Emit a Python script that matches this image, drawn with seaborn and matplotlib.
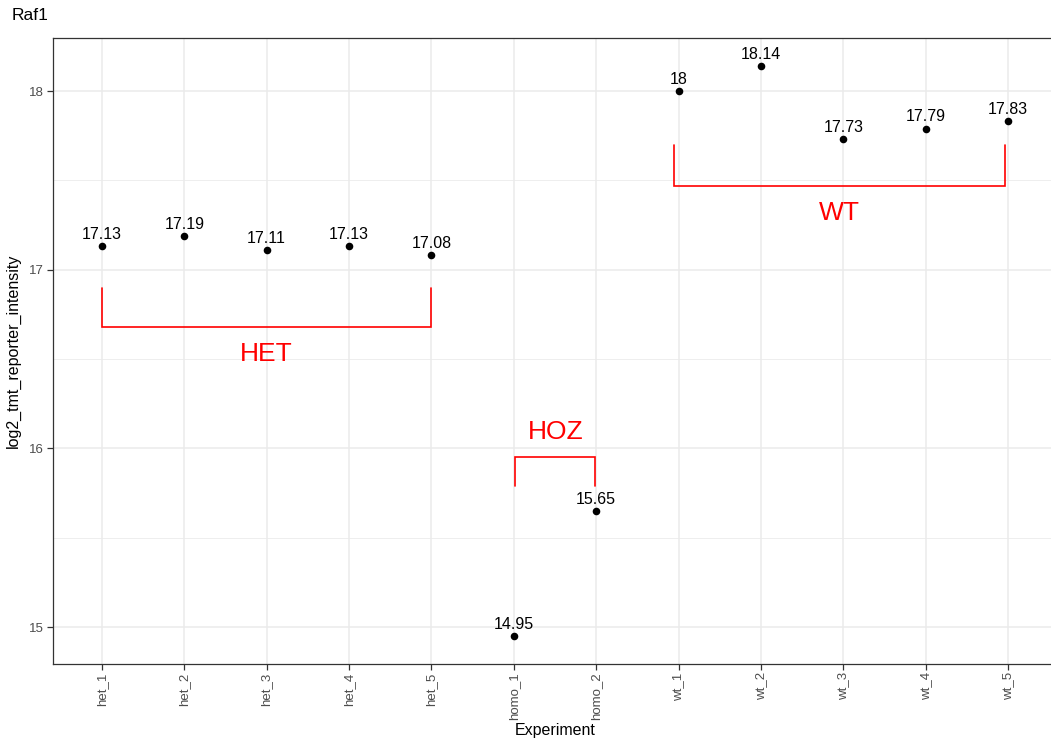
import matplotlib
matplotlib.use("Agg")
import matplotlib.pyplot as plt
import seaborn as sns
import pandas as pd
from matplotlib.ticker import MultipleLocator

experiments = ["het_1", "het_2", "het_3", "het_4", "het_5", "homo_1", "homo_2",
               "wt_1", "wt_2", "wt_3", "wt_4", "wt_5"]
intensity = [17.13, 17.19, 17.11, 17.13, 17.08, 14.95, 15.65,
             18.00, 18.14, 17.73, 17.79, 17.83]
value_labels = ["17.13", "17.19", "17.11", "17.13", "17.08", "14.95", "15.65",
                "18", "18.14", "17.73", "17.79", "17.83"]

# Group brackets
group_names = ["HET", "HOZ", "WT"]
group_start = ["het_1", "homo_1", "wt_1"]
group_end = ["het_5", "homo_2", "wt_5"]
group_tip = [16.90, 15.79, 17.70]
group_bar = [16.68, 15.95, 17.47]
group_label_y = [16.53, 16.09, 17.32]

sns.set_theme(style="whitegrid")
plt.rcParams['font.family'] = ['Liberation Sans', 'DejaVu Sans']

df = pd.DataFrame({"Experiment": experiments, "value": intensity})

fig = plt.figure(figsize=(10.51, 7.40), dpi=100)
left_px, right_px, top_px, bottom_px = 52.5, 1057.5, 38, 664
ax = fig.add_axes([left_px / 1051, 1 - bottom_px / 740,
                   (right_px - left_px) / 1051, (bottom_px - top_px) / 740])

sns.scatterplot(data=df, x="Experiment", y="value", ax=ax, color="black",
                s=30, edgecolor="black", linewidth=0, zorder=3)

pos = {c: i for i, c in enumerate(experiments)}
for i, (v, lab) in enumerate(zip(intensity, value_labels)):
    ax.annotate(lab, (i, v), xytext=(0, 3), textcoords="offset points",
                ha="center", va="bottom", fontsize=11.5, color="black", zorder=4)

shift_start = [0.0, 0.02, -0.05]
shift_end = [0.0, -0.01, -0.04]
for name, s, e, tip, bar, ly, d0, d1 in zip(group_names, group_start, group_end,
                                            group_tip, group_bar, group_label_y,
                                            shift_start, shift_end):
    x0 = pos[s] + d0
    x1 = pos[e] + d1
    ax.plot([x0, x0, x1, x1], [tip, bar, bar, tip], color="#FF0000", lw=1.2,
            zorder=2, solid_joinstyle="miter")
    ax.text((x0 + x1) / 2, ly, name, color="#FF0000", fontsize=19,
            ha="center", va="center")

ax.set_xlim(-0.6, len(experiments) - 0.4)
ax.set_ylim(14.793, 18.297)
ax.yaxis.set_major_locator(MultipleLocator(1))
ax.yaxis.set_minor_locator(MultipleLocator(0.5))
ax.grid(which="major", color="#EBEBEB", lw=1.1)
ax.grid(which="minor", axis="y", color="#EBEBEB", lw=0.6)
ax.set_axisbelow(True)
for sp in ax.spines.values():
    sp.set_color("#333333")
    sp.set_linewidth(0.9)

ax.tick_params(axis="both", which="major", direction="out", length=4, width=0.9,
               color="#333333", labelcolor="#4D4D4D", labelsize=9.5,
               left=True, bottom=True, pad=2)
ax.tick_params(axis="y", which="minor", left=False)
plt.setp(ax.get_xticklabels(), rotation=90, va="top", ha="center")

ax.set_xlabel("Experiment", fontsize=11.5, color="black", labelpad=2)
ax.set_ylabel("log2_tmt_reporter_intensity", fontsize=11.5, color="black", labelpad=6)
fig.text(12 / 1051, 1 - 15 / 740, "Raf1", fontsize=12.5, ha="left", va="center",
         color="black")

fig.savefig("out.png", dpi=100, facecolor="white")
